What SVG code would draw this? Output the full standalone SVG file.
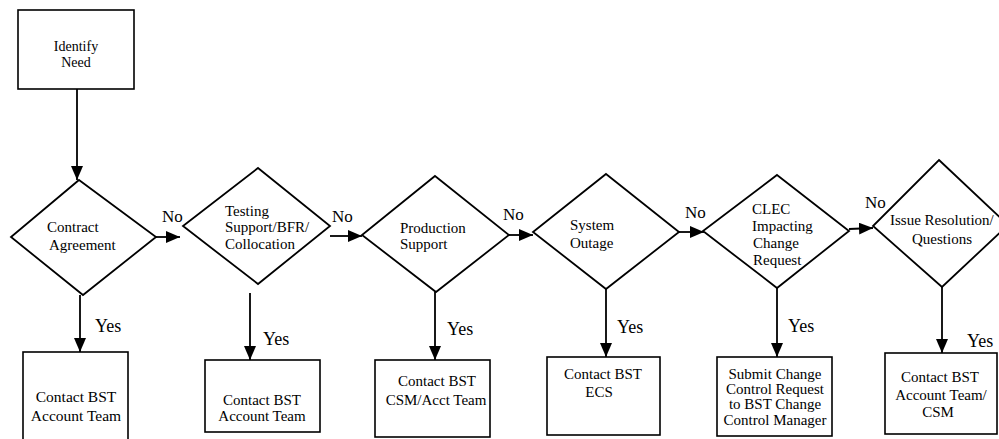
<svg xmlns="http://www.w3.org/2000/svg" width="999" height="439" viewBox="0 0 999 439" font-family="Liberation Serif, Times New Roman, serif">
<style>
  .shape { fill: #fff; stroke: #000; stroke-width: 1.8; }
  .box { fill: #fff; stroke: #000; stroke-width: 1.6; }
  .t { font-size: 15px; }
  .c { text-anchor: middle; }
  .no { font-size: 17px; }
  .yes { font-size: 18px; }
  .conn line { stroke: #000; stroke-width: 1.8; }
</style>
<defs>
  <marker id="ah" viewBox="0 0 14 12" refX="14" refY="6" markerWidth="14" markerHeight="12" markerUnits="userSpaceOnUse" orient="auto">
    <path d="M0,0 L14,6 L0,12 z" fill="#000"/>
  </marker>
</defs>
<rect width="999" height="439" fill="#fff"/>

<g id="connectors" class="conn">
  <line x1="77" y1="89" x2="77" y2="180" marker-end="url(#ah)"/>
  <line x1="156" y1="237" x2="180" y2="237" marker-end="url(#ah)"/>
  <line x1="330" y1="236" x2="362" y2="236" marker-end="url(#ah)"/>
  <line x1="509" y1="235" x2="533" y2="235" marker-end="url(#ah)"/>
  <line x1="679" y1="232" x2="704" y2="232" marker-end="url(#ah)"/>
  <line x1="849" y1="229" x2="873" y2="228" marker-end="url(#ah)"/>
  <line x1="80" y1="295" x2="80" y2="352" marker-end="url(#ah)"/>
  <line x1="250" y1="293" x2="250" y2="360" marker-end="url(#ah)"/>
  <line x1="435" y1="292" x2="435" y2="360" marker-end="url(#ah)"/>
  <line x1="606" y1="289" x2="606" y2="357" marker-end="url(#ah)"/>
  <line x1="777" y1="288" x2="777" y2="357" marker-end="url(#ah)"/>
  <line x1="942" y1="287" x2="942" y2="353" marker-end="url(#ah)"/>
</g>

<g id="labels" font-family="Liberation Serif, serif">
  <text class="no" x="162" y="222">No</text>
  <text class="no" x="332" y="222">No</text>
  <text class="no" x="503" y="220">No</text>
  <text class="no" x="685" y="218">No</text>
  <text class="no" x="865" y="208">No</text>
  <text class="yes" x="95" y="332">Yes</text>
  <text class="yes" x="263" y="345">Yes</text>
  <text class="yes" x="447" y="335">Yes</text>
  <text class="yes" x="617" y="333">Yes</text>
  <text class="yes" x="788" y="332">Yes</text>
  <text class="yes" x="967" y="347">Yes</text>
</g>

<g id="identify-need" font-family="Liberation Serif, serif">
  <rect class="box" x="18" y="10" width="116" height="79"/>
  <text class="c" x="76" y="51" style="font-size:14px">Identify</text>
  <text class="c" x="76" y="67" style="font-size:14px">Need</text>
</g>

<g id="d-contract" font-family="Liberation Serif, serif">
  <polygon class="shape" points="79,180 156,237 83,295 11,237"/>
  <text class="t" x="47" y="232">Contract</text>
  <text class="t" x="49" y="250">Agreement</text>
</g>

<g id="d-testing" font-family="Liberation Serif, serif">
  <polygon class="shape" points="258,168 330,226 258,284 183,226"/>
  <text class="t" x="225" y="216">Testing</text>
  <text class="t" x="225" y="232">Support/BFR/</text>
  <text class="t" x="225" y="249">Collocation</text>
</g>

<g id="d-production" font-family="Liberation Serif, serif">
  <polygon class="shape" points="435,176 509,235 436,292 362,235"/>
  <text class="t" x="400" y="233">Production</text>
  <text class="t" x="400" y="249">Support</text>
</g>

<g id="d-outage" font-family="Liberation Serif, serif">
  <polygon class="shape" points="606,174 679,232 606,289 533,232"/>
  <text class="t" x="570" y="230">System</text>
  <text class="t" x="570" y="248">Outage</text>
</g>

<g id="d-clec" font-family="Liberation Serif, serif">
  <polygon class="shape" points="777,175 849,231 777,288 703,231"/>
  <text class="t" x="752" y="214">CLEC</text>
  <text class="t" x="752" y="231">Impacting</text>
  <text class="t" x="753" y="248">Change</text>
  <text class="t" x="753" y="265">Request</text>
</g>

<g id="d-issue" font-family="Liberation Serif, serif">
  <polygon class="shape" points="939,160 1008,225 942,287 873,226"/>
  <text class="t" x="890" y="225">Issue Resolution/</text>
  <text class="t" x="912" y="244">Questions</text>
</g>

<g id="b-account1" font-family="Liberation Serif, serif">
  <rect class="box" x="23" y="352" width="105" height="100"/>
  <text class="c" x="76" y="402" style="font-size:15.5px">Contact BST</text>
  <text class="c" x="76" y="421" style="font-size:15.5px">Account Team</text>
</g>

<g id="b-account2" font-family="Liberation Serif, serif">
  <rect class="box" x="205" y="360" width="115" height="72"/>
  <text class="t c" x="262" y="405">Contact BST</text>
  <text class="t c" x="262" y="421">Account Team</text>
</g>

<g id="b-csm" font-family="Liberation Serif, serif">
  <rect class="box" x="375" y="360" width="115" height="77"/>
  <text class="t c" x="437" y="386">Contact BST</text>
  <text class="t c" x="436" y="405">CSM/Acct Team</text>
</g>

<g id="b-ecs" font-family="Liberation Serif, serif">
  <rect class="box" x="547" y="357" width="113" height="78"/>
  <text class="t c" x="603" y="379">Contact BST</text>
  <text class="t c" x="599" y="397">ECS</text>
</g>

<g id="b-change" font-family="Liberation Serif, serif">
  <rect class="box" x="717" y="357" width="115" height="79"/>
  <text class="t c" x="775" y="379">Submit Change</text>
  <text class="t c" x="775" y="394">Control Request</text>
  <text class="t c" x="775" y="409">to BST Change</text>
  <text class="t c" x="775" y="425">Control Manager</text>
</g>

<g id="b-account3" font-family="Liberation Serif, serif">
  <rect class="box" x="885" y="353" width="112" height="81"/>
  <text class="t c" x="940" y="382">Contact BST</text>
  <text class="t c" x="941" y="400">Account Team/</text>
  <text class="t c" x="938" y="417">CSM</text>
</g>
</svg>
